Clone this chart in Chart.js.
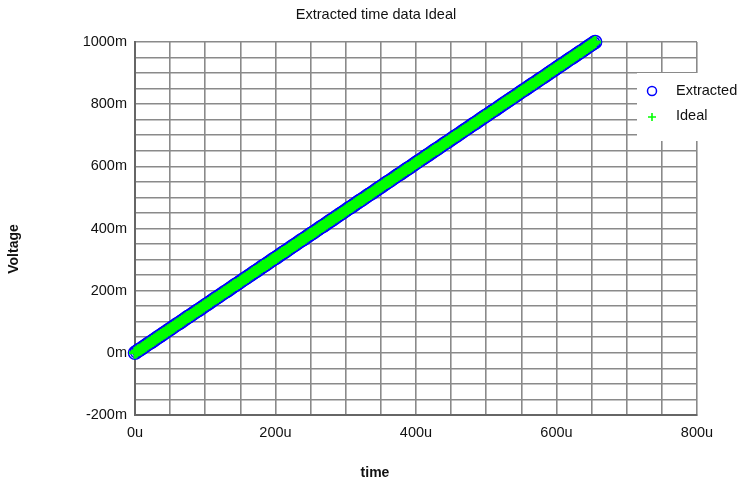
<!DOCTYPE html>
<html>
<head>
<meta charset="utf-8">
<script src="https://cdn.jsdelivr.net/npm/chart.js@4"></script>
<style>
  html, body { margin: 0; padding: 0; background: #fff; }
  #wrap { width: 754px; height: 485px; }
</style>
</head>
<body>
<div id="wrap"><canvas id="chart" width="754" height="485"></canvas></div>
<script>
// time in u (microseconds), voltage in m (millivolts)
const timeUs = [
  0,2.5,5,7.5,10,12.5,15,17.5,20,22.5,25,27.5,30,32.5,35,37.5,40,42.5,45,47.5,
  50,52.5,55,57.5,60,62.5,65,67.5,70,72.5,75,77.5,80,82.5,85,87.5,90,92.5,95,97.5,
  100,102.5,105,107.5,110,112.5,115,117.5,120,122.5,125,127.5,130,132.5,135,137.5,140,142.5,145,147.5,
  150,152.5,155,157.5,160,162.5,165,167.5,170,172.5,175,177.5,180,182.5,185,187.5,190,192.5,195,197.5,
  200,202.5,205,207.5,210,212.5,215,217.5,220,222.5,225,227.5,230,232.5,235,237.5,240,242.5,245,247.5,
  250,252.5,255,257.5,260,262.5,265,267.5,270,272.5,275,277.5,280,282.5,285,287.5,290,292.5,295,297.5,
  300,302.5,305,307.5,310,312.5,315,317.5,320,322.5,325,327.5,330,332.5,335,337.5,340,342.5,345,347.5,
  350,352.5,355,357.5,360,362.5,365,367.5,370,372.5,375,377.5,380,382.5,385,387.5,390,392.5,395,397.5,
  400,402.5,405,407.5,410,412.5,415,417.5,420,422.5,425,427.5,430,432.5,435,437.5,440,442.5,445,447.5,
  450,452.5,455,457.5,460,462.5,465,467.5,470,472.5,475,477.5,480,482.5,485,487.5,490,492.5,495,497.5,
  500,502.5,505,507.5,510,512.5,515,517.5,520,522.5,525,527.5,530,532.5,535,537.5,540,542.5,545,547.5,
  550,552.5,555,557.5,560,562.5,565,567.5,570,572.5,575,577.5,580,582.5,585,587.5,590,592.5,595,597.5,
  600,602.5,605,607.5,610,612.5,615,617.5,620,622.5,625,627.5,630,632.5,635,637.5,640,642.5,645,647.5,
  650,652.5,655];

const extractedMv = [
  0,4,8,11,15,19,23,27,31,34,38,42,46,50,53,57,61,65,69,73,
  76,80,84,88,92,95,99,103,107,111,115,118,122,126,130,134,137,141,145,149,
  153,156,160,164,168,172,176,179,183,187,191,195,198,202,206,210,214,218,221,225,
  229,233,237,240,244,248,252,256,260,263,267,271,275,279,282,286,290,294,298,302,
  305,309,313,317,321,324,328,332,336,340,344,347,351,355,359,363,366,370,374,378,
  382,385,389,393,397,401,405,408,412,416,420,424,427,431,435,439,443,447,450,454,
  458,462,466,469,473,477,481,485,489,492,496,500,504,508,511,515,519,523,527,531,
  534,538,542,546,550,553,557,561,565,569,573,576,580,584,588,592,595,599,603,607,
  611,615,618,622,626,630,634,637,641,645,649,653,656,660,664,668,672,676,679,683,
  687,691,695,698,702,706,710,714,718,721,725,729,733,737,740,744,748,752,756,760,
  763,767,771,775,779,782,786,790,794,798,802,805,809,813,817,821,824,828,832,836,
  840,844,847,851,855,859,863,866,870,874,878,882,885,889,893,897,901,905,908,912,
  916,920,924,927,931,935,939,943,947,950,954,958,962,966,969,973,977,981,985,989,
  992,996,1000];

const idealMv = [
  0,4,8,11,15,19,23,27,31,34,38,42,46,50,53,57,61,65,69,73,
  76,80,84,88,92,95,99,103,107,111,115,118,122,126,130,134,137,141,145,149,
  153,156,160,164,168,172,176,179,183,187,191,195,198,202,206,210,214,218,221,225,
  229,233,237,240,244,248,252,256,260,263,267,271,275,279,282,286,290,294,298,302,
  305,309,313,317,321,324,328,332,336,340,344,347,351,355,359,363,366,370,374,378,
  382,385,389,393,397,401,405,408,412,416,420,424,427,431,435,439,443,447,450,454,
  458,462,466,469,473,477,481,485,489,492,496,500,504,508,511,515,519,523,527,531,
  534,538,542,546,550,553,557,561,565,569,573,576,580,584,588,592,595,599,603,607,
  611,615,618,622,626,630,634,637,641,645,649,653,656,660,664,668,672,676,679,683,
  687,691,695,698,702,706,710,714,718,721,725,729,733,737,740,744,748,752,756,760,
  763,767,771,775,779,782,786,790,794,798,802,805,809,813,817,821,824,828,832,836,
  840,844,847,851,855,859,863,866,870,874,878,882,885,889,893,897,901,905,908,912,
  916,920,924,927,931,935,939,943,947,950,954,958,962,966,969,973,977,981,985,989,
  992,996,1000];

const seriesNames = ["Extracted", "Ideal"];
const chartTitle = "Extracted time data Ideal";
const xTitle = "time";
const yTitle = "Voltage";

const FONT = "Liberation Sans, Arial, sans-serif";
const BLUE = "#0000ff";
const GREEN = "#00ff00";

function toPoints(xs, ys) {
  return xs.map((x, i) => ({ x: x, y: ys[i] }));
}

/* titles + legend box drawn over the plot */
const decorations = {
  id: "decorations",
  afterDraw(chart) {
    const ctx = chart.ctx;
    ctx.save();
    ctx.fillStyle = "#111";
    ctx.textAlign = "center";
    ctx.textBaseline = "middle";
    ctx.font = "14.5px " + FONT;
    ctx.fillText(chartTitle, 376, 15);
    ctx.font = "bold 14px " + FONT;
    ctx.fillText(xTitle, 375, 473);
    ctx.translate(14, 249);
    ctx.rotate(-Math.PI / 2);
    ctx.fillText(yTitle, 0, 0);
    ctx.restore();

    // legend
    ctx.save();
    ctx.fillStyle = "#fff";
    ctx.fillRect(637, 73, 110, 68);
    ctx.lineWidth = 1.5;
    ctx.strokeStyle = BLUE;
    ctx.beginPath();
    ctx.arc(652, 91, 4.5, 0, Math.PI * 2);
    ctx.stroke();
    ctx.strokeStyle = GREEN;
    ctx.lineWidth = 1.6;
    ctx.beginPath();
    ctx.moveTo(648, 117); ctx.lineTo(656, 117);
    ctx.moveTo(652, 113); ctx.lineTo(652, 121);
    ctx.stroke();
    ctx.fillStyle = "#111";
    ctx.font = "14.5px " + FONT;
    ctx.textAlign = "left";
    ctx.textBaseline = "middle";
    ctx.fillText(seriesNames[0], 676, 91);
    ctx.fillText(seriesNames[1], 676, 116);
    ctx.restore();
  }
};

const ctx = document.getElementById("chart").getContext("2d");

new Chart(ctx, {
  type: "scatter",
  data: {
    datasets: [
      {
        label: seriesNames[1],
        data: toPoints(timeUs, idealMv),
        pointStyle: "cross",
        pointRadius: 6,
        borderColor: GREEN,
        borderWidth: 3,
        clip: false,
        order: 0
      },
      {
        label: seriesNames[0],
        data: toPoints(timeUs, extractedMv),
        pointStyle: "circle",
        pointRadius: 6.5,
        borderColor: BLUE,
        backgroundColor: "rgba(0,0,0,0)",
        borderWidth: 1.5,
        clip: false,
        order: 1
      }
    ]
  },
  plugins: [decorations],
  options: {
    responsive: false,
    animation: false,
    events: [],
    layout: { padding: { top: 42, right: 57, left: 0, bottom: 0 } },
    plugins: {
      legend: { display: false },
      title: { display: false },
      tooltip: { enabled: false }
    },
    scales: {
      x: {
        type: "linear",
        min: 0,
        max: 800,
        afterFit(scale) { scale.height = 70; },
        grid: { color: "#8a8a8a", lineWidth: 1.6, drawTicks: false },
        border: { color: "#666", width: 2 },
        ticks: {
          stepSize: 50,
          autoSkip: false,
          maxRotation: 0,
          padding: 9,
          color: "#111",
          font: { family: FONT, size: 14.5 },
          callback: v => (v % 200 === 0 ? v + "u" : "")
        }
      },
      y: {
        type: "linear",
        min: -200,
        max: 1000,
        afterFit(scale) { scale.width = 135; },
        grid: { color: "#8a8a8a", lineWidth: 1.6, drawTicks: false },
        border: { color: "#666", width: 2 },
        ticks: {
          stepSize: 50,
          autoSkip: false,
          padding: 8,
          color: "#111",
          font: { family: FONT, size: 14.5 },
          callback: v => (v % 200 === 0 ? v + "m" : "")
        }
      }
    }
  }
});
</script>
</body>
</html>
